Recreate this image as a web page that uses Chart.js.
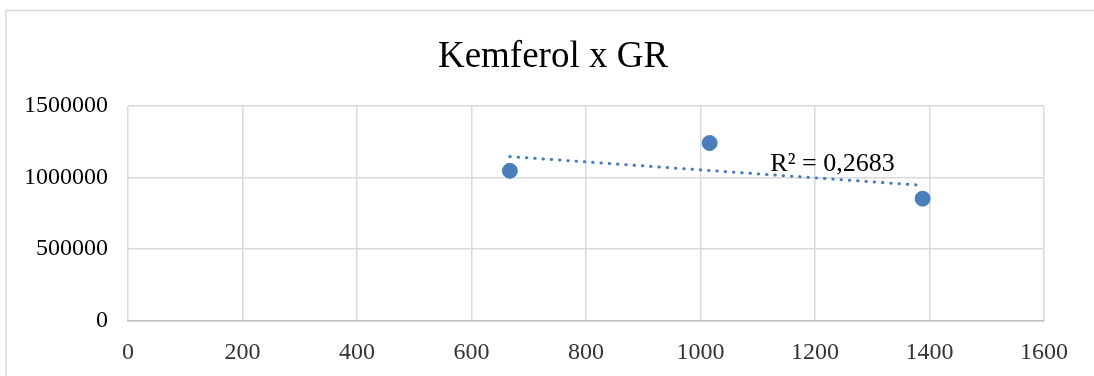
<!DOCTYPE html>
<html>
<head>
<meta charset="utf-8">
<script src="https://cdn.jsdelivr.net/npm/chart.js@4"></script>
<style>
  html, body { margin: 0; padding: 0; background: #fff; }
  #wrap { width: 1094px; height: 376px; position: relative; }
</style>
</head>
<body>
<div id="wrap"><canvas id="chart" width="1094" height="376"></canvas></div>
<script>
// Kemferol vs GR scatter
const chartTitle = 'Kemferol x GR';
const grValues = [667, 1016, 1388];
const kemferolValues = [1047000, 1241000, 852000];
const xTicks = [0, 200, 400, 600, 800, 1000, 1200, 1400, 1600];
const yTicks = [0, 500000, 1000000, 1500000];

const serif = "'Liberation Serif', 'Times New Roman', serif";
const blue = '#4A7EBB';

// Linear trend (least squares) fitted to the points above
const n = grValues.length;
const mx = grValues.reduce((a, b) => a + b, 0) / n;
const my = kemferolValues.reduce((a, b) => a + b, 0) / n;
let sxy = 0, sxx = 0;
for (let i = 0; i < n; i++) {
    sxy += (grValues[i] - mx) * (kemferolValues[i] - my);
    sxx += (grValues[i] - mx) ** 2;
}
const slope = sxy / sxx;
const intercept = my - slope * mx;
const xMin = Math.min(...grValues), xMax = Math.max(...grValues);
const trendPoints = [
    { x: xMin, y: intercept + slope * xMin },
    { x: xMax, y: intercept + slope * xMax }
];
const r2Label = 'R\u00b2 = 0,2683';

// Outer frame and the R² annotation
const decorPlugin = {
    id: 'decor',
    beforeDraw(chart) {
        const c = chart.ctx;
        c.save();
        c.fillStyle = '#fff';
        c.fillRect(0, 0, chart.width, chart.height);
        c.strokeStyle = '#d9d9d9';
        c.lineWidth = 1.5;
        c.strokeRect(6, 10.5, chart.width + 20, chart.height + 20);
        c.restore();
    },
    afterDatasetsDraw(chart) {
        const c = chart.ctx;
        const xs = chart.scales.x, ys = chart.scales.y;
        c.save();
        c.font = '26px ' + serif;
        c.fillStyle = '#000';
        c.textBaseline = 'alphabetic';
        c.textAlign = 'left';
        c.fillText(r2Label, xs.getPixelForValue(1122), ys.getPixelForValue(1048000));
        c.restore();
    }
};

new Chart(document.getElementById('chart'), {
    type: 'scatter',
    data: {
        datasets: [{
            label: 'Kemferol',
            data: grValues.map((x, i) => ({ x: x, y: kemferolValues[i] })),
            backgroundColor: blue,
            borderColor: blue,
            pointRadius: 7.5,
            pointHoverRadius: 7.5,
            order: 1
        }, {
            type: 'line',
            label: 'Trend',
            data: trendPoints,
            borderColor: blue,
            borderWidth: 3,
            borderDash: [0.5, 7.8],
            borderCapStyle: 'round',
            pointRadius: 0,
            fill: false,
            order: 2
        }]
    },
    options: {
        responsive: false,
        animation: false,
        layout: { padding: { left: 12, right: 0, top: 0, bottom: 0 } },
        plugins: {
            legend: { display: false },
            tooltip: { enabled: false },
            title: {
                display: true,
                text: chartTitle,
                color: '#000',
                font: { size: 37, family: serif, weight: 'normal', lineHeight: 1.2 },
                padding: { top: 35, bottom: 26.6 }
            }
        },
        scales: {
            x: {
                type: 'linear',
                min: 0,
                max: 1600,
                afterBuildTicks(scale) { scale.ticks = xTicks.map(v => ({ value: v })); },
                afterFit(scale) { scale.height = 55.5; },
                grid: { color: '#d9d9d9', lineWidth: 1.5, drawTicks: false },
                border: { display: true, color: '#bfbfbf', width: 1.5 },
                ticks: {
                    color: '#333',
                    padding: 18,
                    maxRotation: 0,
                    font: { size: 24, family: serif },
                    callback: v => String(v)
                }
            },
            y: {
                min: 0,
                max: 1500000,
                afterBuildTicks(scale) { scale.ticks = yTicks.map(v => ({ value: v })); },
                afterFit(scale) { scale.width = 116; },
                grid: { color: '#d9d9d9', lineWidth: 1.5, drawTicks: false },
                border: { display: false },
                ticks: {
                    color: '#000',
                    padding: 20,
                    font: { size: 24, family: serif },
                    callback: v => String(v)
                }
            },
            // empty axis on the right, only reserves the margin
            spacer: {
                type: 'linear',
                position: 'right',
                afterFit(scale) { scale.width = 50; },
                grid: { display: false },
                border: { display: false },
                ticks: { display: false }
            }
        }
    },
    plugins: [decorPlugin]
});
</script>
</body>
</html>
